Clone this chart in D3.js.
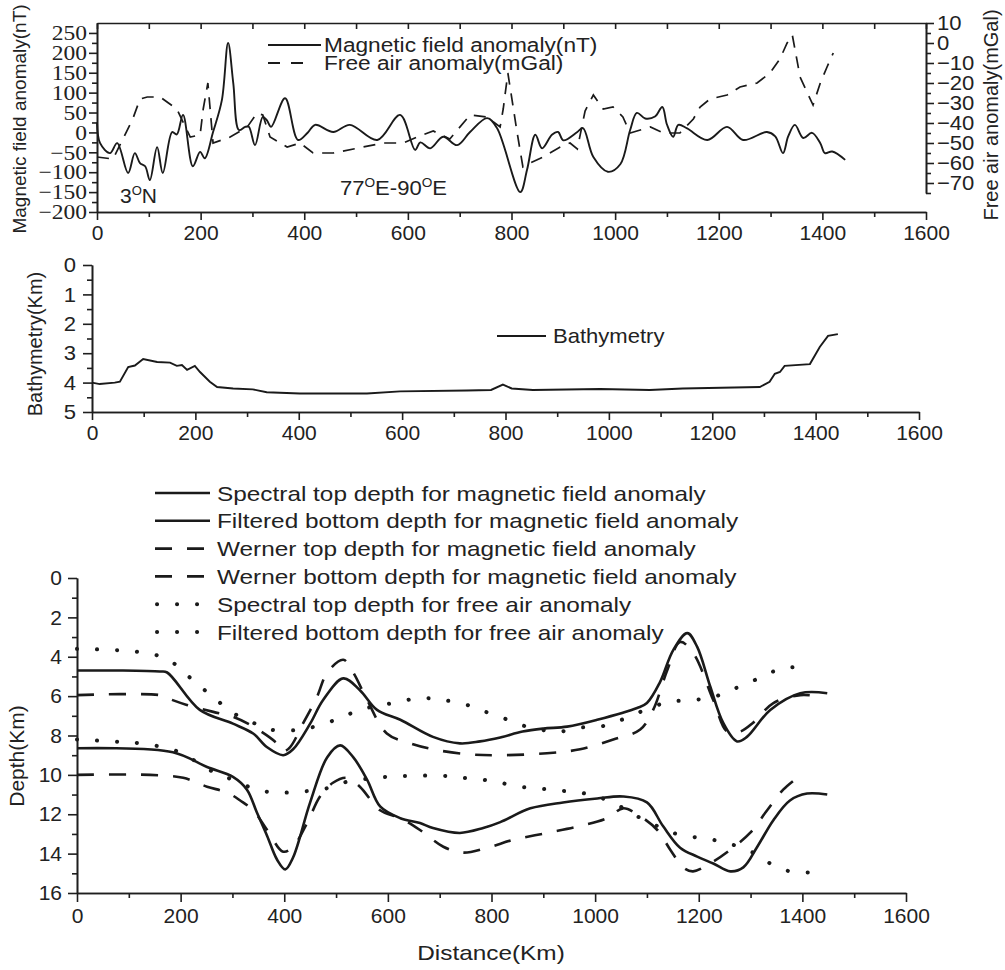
<!DOCTYPE html>
<html>
<head>
<meta charset="utf-8">
<script src="https://cdn.jsdelivr.net/npm/d3@7"></script>
<style>
  body { margin: 0; background: #fff; }
  svg text { font-family: "Liberation Sans", Arial, sans-serif; fill: #222; }
  .domain, .tick line { stroke: #1e1e1e; stroke-width: 1.6; }
  .serif text { font-family: "Liberation Serif", "Times New Roman", serif; }
</style>
</head>
<body>
<svg width="1005" height="970"></svg>
<script>
// ---- panel 1: magnetic field anomaly (nT) and free air anomaly (mGal) ----
var magDist = [0,6,25,39,60,73,83,93,102,116,127,145,154,166,185,199,208,224,241,253,263,274,286,293,305,320,328,336,363,388,407,421,456,488,541,585,614,624,643,668,695,720,753,772,817,830,846,859,878,890,900,927,938,958,986,1010,1029,1042,1058,1077,1091,1100,1112,1122,1139,1178,1216,1247,1293,1309,1324,1334,1347,1363,1380,1396,1405,1419,1444];
var magNT = [25,-27,-52,-27,-102,-52,-77,-85,-120,-37,-102,1,-5,44,-85,-49,-65,1,81,225,124,6,14,14,-32,39,30,14,86,-19,0,19,1,19,-19,44,-44,-25,-40,-11,-32,1,36,11,-150,-94,-6,-40,-6,1,-20,1,11,-62,-99,-80,6,49,35,40,64,20,-11,19,10,-19,14,-19,1,-10,-52,-10,19,-14,-1,-27,-52,-48,-69];
var faaDist = [0,31,50,69,83,97,122,154,180,199,205,214,224,257,290,309,320,334,367,392,417,456,514,552,591,618,649,681,720,753,778,784,793,811,822,836,861,894,913,927,942,958,977,996,1015,1029,1068,1093,1125,1151,1164,1183,1216,1241,1274,1299,1318,1332,1342,1357,1371,1382,1396,1409,1421];
var faaMGal = [-57,-58,-48,-38,-28,-27,-27,-33,-47,-46,-33,-20,-50,-47,-42,-35,-36,-47,-52,-50,-55,-55,-52,-50,-50,-47,-44,-48,-36,-37,-42,-33,-15,-45,-62,-60,-57,-52,-50,-53,-34,-26,-33,-32,-37,-45,-42,-45,-45,-38,-32,-28,-26,-22,-20,-15,-8,0,4,-17,-25,-31,-20,-12,-5];

// ---- panel 2: bathymetry (km) ----
var bathyDist = [0,15,44,54,70,83,99,126,151,164,174,184,199,209,228,242,273,311,338,402,532,596,725,772,795,812,853,983,1079,1143,1292,1311,1321,1331,1340,1389,1408,1424,1443];
var bathyKm = [4.0,4.05,4.0,3.97,3.47,3.42,3.2,3.3,3.32,3.43,3.4,3.57,3.43,3.64,3.97,4.15,4.2,4.23,4.33,4.37,4.37,4.3,4.27,4.25,4.07,4.2,4.25,4.22,4.25,4.2,4.15,3.97,3.7,3.64,3.43,3.37,2.79,2.41,2.35];

// ---- panel 3: depth estimates (km) ----
var specTopDist = [0,83,160,174,237,301,340,367,398,417,450,475,514,546,579,624,687,739,778,817,860,900,946,1004,1081,1100,1125,1151,1178,1197,1222,1247,1274,1293,1338,1396,1448];
var specTopKm = [4.7,4.7,4.75,4.8,6.7,7.4,7.9,8.6,9.0,8.7,7.4,6.2,5.1,5.7,6.7,7.2,8.07,8.4,8.3,8.1,7.8,7.65,7.55,7.2,6.6,6.35,5.3,3.65,2.8,3.5,5.5,7.35,8.3,8.07,6.7,5.85,5.85];
var filtBotDist = [0,185,251,301,328,347,367,386,402,417,450,483,508,533,560,585,624,662,687,739,784,817,875,938,1004,1054,1100,1131,1164,1197,1228,1261,1286,1313,1344,1376,1409,1448];
var filtBotKm = [8.65,8.85,9.6,10.1,10.75,11.9,13.1,14.3,14.8,14.2,11.4,9.1,8.5,9.1,10.25,11.6,12.2,12.45,12.7,12.95,12.7,12.4,11.7,11.4,11.2,11.1,11.4,12.6,13.7,14.15,14.5,14.9,14.7,13.65,12.3,11.3,10.95,11.0];
var wernTopDist = [0,160,174,212,263,301,340,386,398,411,436,463,483,514,533,560,598,643,687,753,817,907,971,1035,1087,1112,1139,1164,1189,1228,1255,1280,1305,1344,1396,1429];
var wernTopKm = [5.95,5.95,6.1,6.45,6.8,7.05,7.55,8.4,8.8,8.6,7.4,6.05,4.8,4.15,4.8,6.2,7.9,8.4,8.7,8.95,9.0,8.9,8.7,8.2,7.7,6.7,4.7,3.25,3.8,6.2,7.8,7.8,7.35,6.35,5.95,6.0];
var wernBotDist = [0,141,205,251,290,315,340,367,398,417,444,469,494,521,546,585,624,662,707,745,792,842,907,971,1023,1054,1081,1120,1145,1170,1189,1228,1261,1299,1332,1363,1390];
var wernBotKm = [10.0,10.0,10.15,10.6,10.9,11.3,11.8,12.8,13.9,13.65,12.45,11.1,10.4,10.15,10.6,11.8,12.2,12.8,13.65,13.95,13.7,13.3,12.95,12.6,12.2,11.7,12.0,12.8,13.8,14.7,14.9,14.4,13.8,12.95,11.8,10.75,10.15];
var faTopDist = [0,64,116,151,185,224,263,301,340,373,431,483,521,560,610,662,707,753,778,817,855,894,932,971,1010,1042,1073,1112,1139,1189,1228,1261,1299,1338,1376,1411];
var faTopKm = [3.6,3.65,3.75,3.9,4.3,5.2,6.05,6.85,7.35,7.7,7.7,7.35,6.95,6.6,6.35,6.1,6.2,6.45,6.7,7.05,7.45,7.7,7.8,7.6,7.55,7.3,6.95,6.55,6.3,6.2,6.05,5.7,5.3,4.8,4.55,4.5];
var faBotDist = [0,64,122,193,263,301,347,386,431,469,494,521,560,598,643,707,745,784,817,855,894,932,971,1010,1048,1081,1120,1151,1189,1228,1266,1305,1338,1376,1415];
var faBotKm = [8.2,8.3,8.4,8.8,9.85,10.25,10.75,10.9,10.85,10.75,10.6,10.35,10.2,10.1,10.05,10.05,10.15,10.25,10.4,10.6,10.7,10.8,10.9,11.15,11.6,12.1,12.6,12.95,13.15,13.3,13.55,13.95,14.5,14.9,14.95];

// tick values
var distTicks = [0,200,400,600,800,1000,1200,1400,1600];
var distMinor = [100,300,500,700,900,1100,1300,1500];
var magTicks = [250,200,150,100,50,0,-50,-100,-150,-200];
var magMinor = [225,175,125,75,25,-25,-75,-125,-175];
var faaTicks = [10,0,-10,-20,-30,-40,-50,-60,-70];
var faaMinor = [5,-5,-15,-25,-35,-45,-55,-65,-75];
var bathyTicks = [0,1,2,3,4,5];
var bathyMinor = [0.5,1.5,2.5,3.5,4.5];
var depthTicks = [0,2,4,6,8,10,12,14,16];
var depthMinor = [1,3,5,7,9,11,13,15];

var ink = "#1a1a1a";
var svg = d3.select("svg");

function zip(xs, ys) { return xs.map(function(d, i) { return [d, ys[i]]; }); }

// tick label size + slight horizontal stretch (the source figure's type is wide)
function styleTicks(g, size, sx) {
    g.selectAll(".tick text").each(function() {
        var t = d3.select(this);
        var x = +t.attr("x") || 0;
        t.style("font-size", size + "px").attr("fill", "#222")
            .attr("x", x / sx).attr("transform", "scale(" + sx + ",1)");
    });
}

// plain label at x,y with horizontal stretch
function label(x, y, size, sx, str) {
    return svg.append("text")
        .attr("transform", "translate(" + x + "," + y + ") scale(" + sx + ",1)")
        .style("font-size", size + "px")
        .text(str);
}

// =========== PANEL 1 ===========
var x1 = d3.scaleLinear().domain([0, 1600]).range([97, 926]);
var y1 = d3.scaleLinear().domain([-200, 275]).range([212, 23]);
var y1r = d3.scaleLinear().domain([-75, 10]).range([193, 23]);

// frame top (ticks point inward)
svg.append("g").attr("transform", "translate(0,23)")
    .call(d3.axisTop(x1).tickValues(distTicks.concat(distMinor)).tickSizeInner(-6).tickSizeOuter(0).tickFormat(""));
// bottom
svg.append("g").attr("transform", "translate(0,212)")
    .call(d3.axisBottom(x1).tickValues(distTicks).tickSize(8).tickSizeOuter(0).tickPadding(5).tickFormat(d3.format("d")))
    .call(styleTicks, 21, 1.0);
svg.append("g").attr("transform", "translate(0,212)")
    .call(d3.axisBottom(x1).tickValues(distMinor).tickSize(5).tickSizeOuter(0).tickFormat(""));
// left (serif labels)
svg.append("g").attr("class", "serif").attr("transform", "translate(97,0)")
    .call(d3.axisLeft(y1).tickValues(magTicks).tickSize(8).tickSizeOuter(0).tickPadding(2))
    .call(styleTicks, 21, 1.12);
svg.append("g").attr("transform", "translate(97,0)")
    .call(d3.axisLeft(y1).tickValues(magMinor).tickSize(5).tickSizeOuter(0).tickFormat(""));
// right
svg.append("g").attr("transform", "translate(926,0)")
    .call(d3.axisRight(y1r).tickValues(faaTicks).tickSize(8).tickSizeOuter(0).tickPadding(3))
    .call(styleTicks, 21, 1.05);
svg.append("g").attr("transform", "translate(926,0)")
    .call(d3.axisRight(y1r).tickValues(faaMinor).tickSize(5).tickSizeOuter(0).tickFormat(""));

// lines
svg.append("path")
    .datum(zip(faaDist, faaMGal))
    .attr("fill", "none").attr("stroke", ink).attr("stroke-width", 1.7)
    .attr("stroke-dasharray", "12,9")
    .attr("d", d3.line().x(function(d) { return x1(d[0]); }).y(function(d) { return y1r(d[1]); }));

svg.append("path")
    .datum(zip(magDist, magNT))
    .attr("fill", "none").attr("stroke", ink).attr("stroke-width", 1.9)
    .attr("d", d3.line().curve(d3.curveCatmullRom.alpha(0.5)).x(function(d) { return x1(d[0]); }).y(function(d) { return y1(d[1]); }));

// legend
svg.append("line").attr("x1", 268).attr("x2", 321).attr("y1", 45).attr("y2", 45).attr("stroke", ink).attr("stroke-width", 1.9);
svg.append("line").attr("x1", 268).attr("x2", 303).attr("y1", 63).attr("y2", 63).attr("stroke", ink).attr("stroke-width", 1.9).attr("stroke-dasharray", "12,11");
label(324, 52, 21, 1.08, "Magnetic field anomaly(nT)");
label(324, 70, 21, 1.08, "Free air anomaly(mGal)");

// annotations
var a1 = label(120, 203, 21, 1.0, "");
a1.append("tspan").text("3");
a1.append("tspan").attr("dy", -8).style("font-size", "13px").text("O");
a1.append("tspan").attr("dy", 8).text("N");
var a2 = label(340, 195, 21, 1.05, "");
a2.append("tspan").text("77");
a2.append("tspan").attr("dy", -8).style("font-size", "13px").text("O");
a2.append("tspan").attr("dy", 8).text("E-90");
a2.append("tspan").attr("dy", -8).style("font-size", "13px").text("O");
a2.append("tspan").attr("dy", 8).text("E");

// axis titles
svg.append("text").attr("transform", "translate(26,119) rotate(-90)").attr("text-anchor", "middle")
    .style("font-size", "19px").text("Magnetic field anomaly(nT)");
svg.append("text").attr("transform", "translate(998,115) rotate(-90)").attr("text-anchor", "middle")
    .style("font-size", "20px").text("Free air anomaly(mGal)");

// =========== PANEL 2 ===========
var x2 = d3.scaleLinear().domain([0, 1600]).range([92, 919]);
var y2 = d3.scaleLinear().domain([0, 5]).range([265, 412]);

svg.append("g").attr("transform", "translate(0,412)")
    .call(d3.axisBottom(x2).tickValues(distTicks).tickSize(8).tickSizeOuter(0).tickPadding(5).tickFormat(d3.format("d")))
    .call(styleTicks, 21, 1.0);
svg.append("g").attr("transform", "translate(0,412)")
    .call(d3.axisBottom(x2).tickValues(distMinor).tickSize(5).tickSizeOuter(0).tickFormat(""));
svg.append("g").attr("transform", "translate(92,0)")
    .call(d3.axisLeft(y2).tickValues(bathyTicks).tickSize(9).tickSizeOuter(0).tickPadding(7).tickFormat(d3.format("d")))
    .call(styleTicks, 21, 1.05);
svg.append("g").attr("transform", "translate(92,0)")
    .call(d3.axisLeft(y2).tickValues(bathyMinor).tickSize(5).tickSizeOuter(0).tickFormat(""));

svg.append("path")
    .datum(zip(bathyDist, bathyKm))
    .attr("fill", "none").attr("stroke", ink).attr("stroke-width", 1.9)
    .attr("d", d3.line().x(function(d) { return x2(d[0]); }).y(function(d) { return y2(d[1]); }));

svg.append("line").attr("x1", 497).attr("x2", 546).attr("y1", 336).attr("y2", 336).attr("stroke", ink).attr("stroke-width", 1.9);
label(553, 343, 21, 1.05, "Bathymetry");

svg.append("text").attr("transform", "translate(42,344) rotate(-90)").attr("text-anchor", "middle")
    .style("font-size", "20px").text("Bathymetry(Km)");

// =========== PANEL 3 ===========
var x3 = d3.scaleLinear().domain([0, 1600]).range([77, 906]);
var y3 = d3.scaleLinear().domain([0, 16]).range([578, 893]);

svg.append("g").attr("transform", "translate(0,893)")
    .call(d3.axisBottom(x3).tickValues(distTicks).tickSize(9).tickSizeOuter(0).tickPadding(6).tickFormat(d3.format("d")))
    .call(styleTicks, 21, 1.0);
svg.append("g").attr("transform", "translate(0,893)")
    .call(d3.axisBottom(x3).tickValues(distMinor).tickSize(5).tickSizeOuter(0).tickFormat(""));
svg.append("g").attr("transform", "translate(77,0)")
    .call(d3.axisLeft(y3).tickValues(depthTicks).tickSize(9).tickSizeOuter(0).tickPadding(6))
    .call(styleTicks, 21, 1.0);
svg.append("g").attr("transform", "translate(77,0)")
    .call(d3.axisLeft(y3).tickValues(depthMinor).tickSize(5).tickSizeOuter(0).tickFormat(""));

var depthLine = d3.line().curve(d3.curveCatmullRom.alpha(0.5))
    .x(function(d) { return x3(d[0]); }).y(function(d) { return y3(d[1]); });

var depthSeries = [
    { name: "Spectral top depth for magnetic field anomaly", dist: specTopDist, km: specTopKm, dash: null, width: 2.6, cap: "butt" },
    { name: "Filtered bottom depth for magnetic field anomaly", dist: filtBotDist, km: filtBotKm, dash: null, width: 2.6, cap: "butt" },
    { name: "Werner top depth for magnetic field anomaly", dist: wernTopDist, km: wernTopKm, dash: "17,15", width: 2.6, cap: "butt" },
    { name: "Werner bottom depth for magnetic field anomaly", dist: wernBotDist, km: wernBotKm, dash: "17,15", width: 2.6, cap: "butt" },
    { name: "Spectral top depth for free air anomaly", dist: faTopDist, km: faTopKm, dash: "0.1,19.9", width: 4, cap: "round" },
    { name: "Filtered bottom depth for free air anomaly", dist: faBotDist, km: faBotKm, dash: "0.1,19.9", width: 4, cap: "round" }
];

depthSeries.forEach(function(s, i) {
    svg.append("path")
        .datum(zip(s.dist, s.km))
        .attr("fill", "none").attr("stroke", ink)
        .attr("stroke-width", s.width)
        .attr("stroke-linecap", s.cap)
        .attr("stroke-dasharray", s.dash)
        .attr("d", depthLine);

    // legend row
    var ly = 493 + i * 27.8;
    svg.append("line").attr("x1", i < 4 ? 155 : 157).attr("x2", 210).attr("y1", ly).attr("y2", ly)
        .attr("stroke", ink).attr("stroke-width", s.width)
        .attr("stroke-linecap", s.cap)
        .attr("stroke-dasharray", s.dash);
    label(217, ly + 7.5, 21, 1.16, s.name);
});

svg.append("text").attr("transform", "translate(24,756) rotate(-90)").attr("text-anchor", "middle")
    .style("font-size", "21px").text("Depth(Km)");
svg.append("text").attr("transform", "translate(491,960) scale(1.16,1)").attr("text-anchor", "middle")
    .style("font-size", "21px").text("Distance(Km)");
</script>
</body>
</html>
